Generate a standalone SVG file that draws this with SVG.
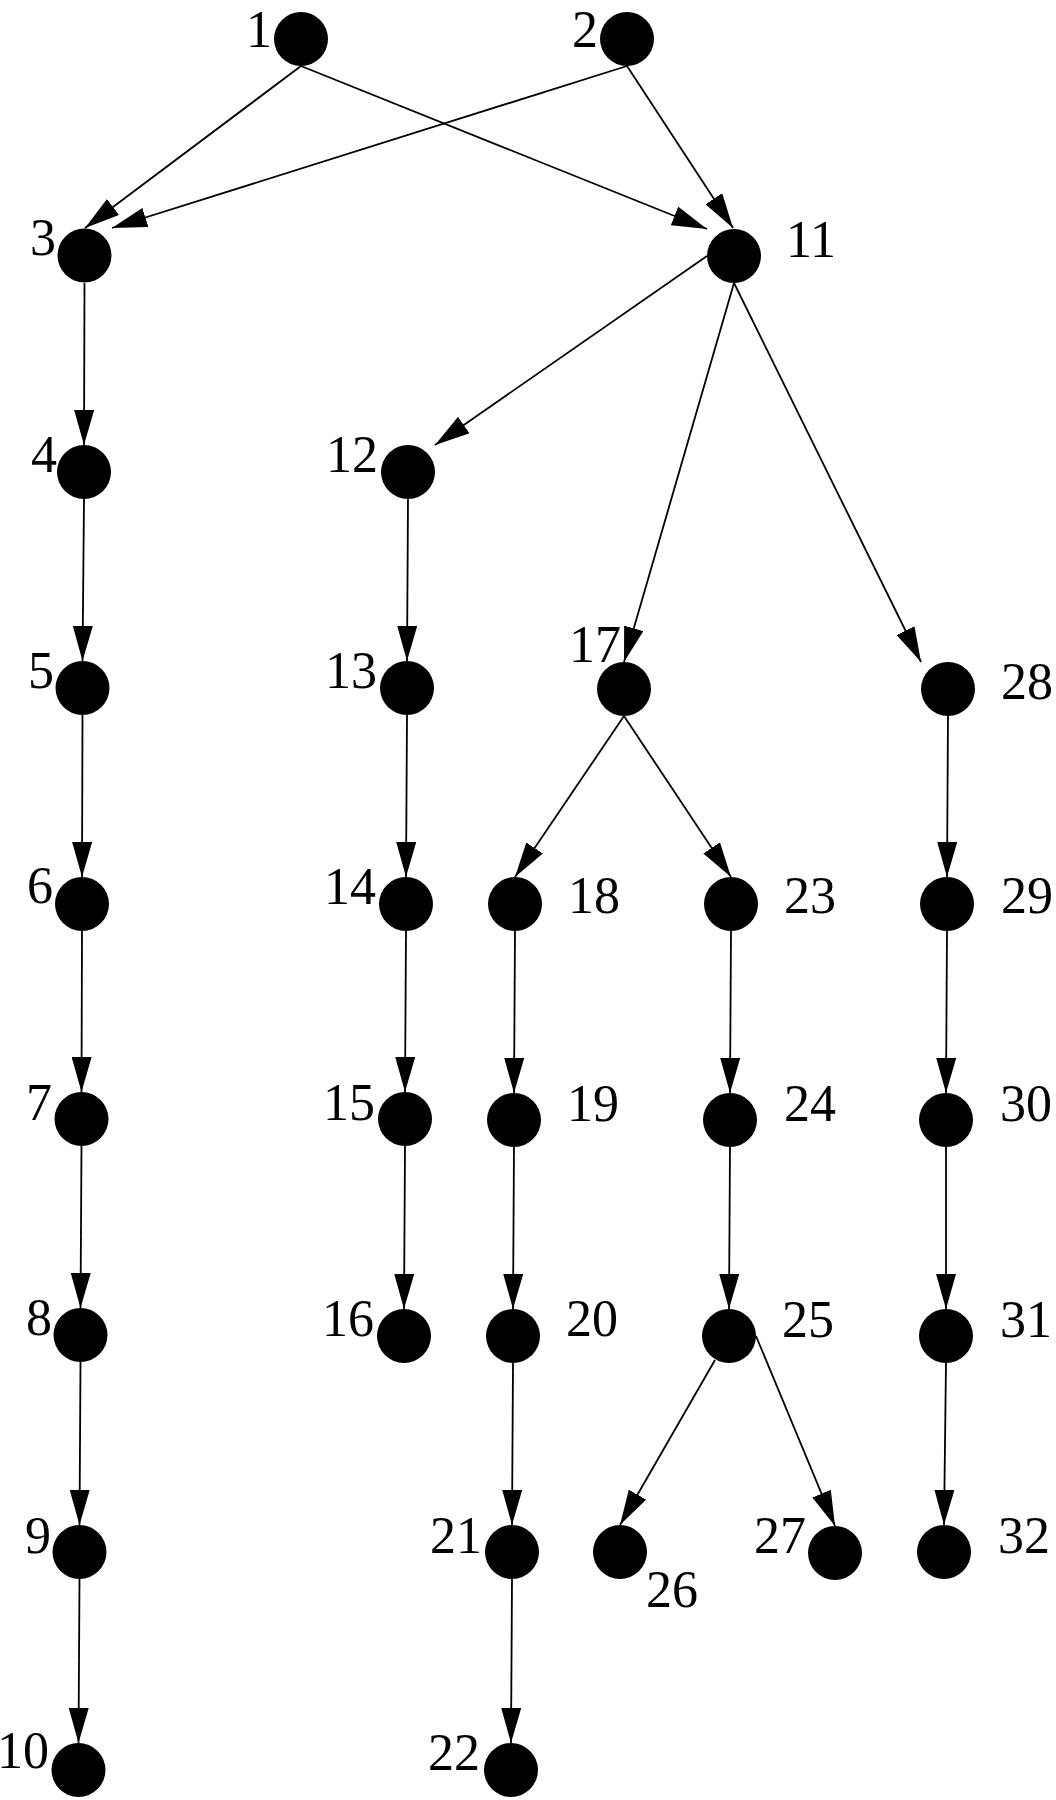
<svg xmlns="http://www.w3.org/2000/svg" width="1056" height="1800" viewBox="0 0 1056 1800">
<style>
.n{fill:#000}
.e line{stroke:#000;stroke-width:1.8;fill:none;marker-end:url(#ah)}
text{font-family:"Liberation Serif","Times New Roman",serif;font-size:52px;fill:#000}
</style>
<defs>
<marker id="ah" markerUnits="userSpaceOnUse" viewBox="0 0 35 20" markerWidth="35" markerHeight="20" refX="35" refY="10" orient="auto">
<path d="M0,0 L35,10 L0,20 z" fill="#000"/>
</marker>
</defs>
<rect width="1056" height="1800" fill="#fff"/>
<g id="connectors" class="e">
<line x1="301" y1="66" x2="85" y2="228"/>
<line x1="301" y1="66" x2="707" y2="229"/>
<line x1="627" y1="66" x2="112" y2="228"/>
<line x1="627" y1="66" x2="733" y2="228"/>
<line x1="84.5" y1="283" x2="84" y2="445"/>
<line x1="84" y1="499" x2="82.5" y2="661"/>
<line x1="82.5" y1="715" x2="82" y2="877"/>
<line x1="82" y1="931" x2="81.5" y2="1092"/>
<line x1="81.5" y1="1146" x2="80.5" y2="1308"/>
<line x1="80.5" y1="1362" x2="79.5" y2="1525"/>
<line x1="79.5" y1="1579" x2="78.5" y2="1743"/>
<line x1="707" y1="256" x2="435" y2="445"/>
<line x1="408" y1="499" x2="407" y2="661"/>
<line x1="407" y1="715" x2="406" y2="877"/>
<line x1="406" y1="931" x2="405" y2="1092"/>
<line x1="405" y1="1146" x2="404" y2="1309"/>
<line x1="734" y1="283" x2="624" y2="662"/>
<line x1="734" y1="283" x2="921" y2="662"/>
<line x1="624" y1="716" x2="515" y2="877"/>
<line x1="624" y1="716" x2="731" y2="877"/>
<line x1="515" y1="931" x2="514" y2="1093"/>
<line x1="514" y1="1147" x2="513" y2="1309"/>
<line x1="513" y1="1363" x2="512" y2="1525"/>
<line x1="512" y1="1579" x2="511" y2="1743"/>
<line x1="731" y1="931" x2="730" y2="1093"/>
<line x1="730" y1="1147" x2="729" y2="1309"/>
<line x1="715" y1="1360" x2="620" y2="1525"/>
<line x1="756" y1="1336" x2="835" y2="1526"/>
<line x1="948" y1="716" x2="947" y2="877"/>
<line x1="947" y1="931" x2="946" y2="1093"/>
<line x1="946" y1="1147" x2="946" y2="1309"/>
<line x1="946" y1="1363" x2="944" y2="1525"/>
</g>
<g id="node1"><circle class="n" cx="301" cy="39" r="27"/><text x="246" y="47">1</text></g>
<g id="node2"><circle class="n" cx="627" cy="39" r="27"/><text x="572" y="47">2</text></g>
<g id="node3"><circle class="n" cx="84.5" cy="255.5" r="27"/><text x="30" y="255">3</text></g>
<g id="node4"><circle class="n" cx="84" cy="472" r="27"/><text x="31" y="472">4</text></g>
<g id="node5"><circle class="n" cx="82.5" cy="688" r="27"/><text x="28" y="688">5</text></g>
<g id="node6"><circle class="n" cx="82" cy="904" r="27"/><text x="27" y="903">6</text></g>
<g id="node7"><circle class="n" cx="81.5" cy="1119" r="27"/><text x="26" y="1120">7</text></g>
<g id="node8"><circle class="n" cx="80.5" cy="1335" r="27"/><text x="26" y="1335">8</text></g>
<g id="node9"><circle class="n" cx="79.5" cy="1552" r="27"/><text x="25" y="1553">9</text></g>
<g id="node10"><circle class="n" cx="78.5" cy="1770" r="27"/><text x="-3" y="1768">10</text></g>
<g id="node11"><circle class="n" cx="734" cy="256" r="27"/><text x="786" y="257">11</text></g>
<g id="node12"><circle class="n" cx="408" cy="472" r="27"/><text x="326" y="472">12</text></g>
<g id="node13"><circle class="n" cx="407" cy="688" r="27"/><text x="325" y="688">13</text></g>
<g id="node14"><circle class="n" cx="406" cy="904" r="27"/><text x="324" y="904">14</text></g>
<g id="node15"><circle class="n" cx="405" cy="1119" r="27"/><text x="323" y="1120">15</text></g>
<g id="node16"><circle class="n" cx="404" cy="1336" r="27"/><text x="322" y="1336">16</text></g>
<g id="node17"><circle class="n" cx="624" cy="689" r="27"/><text x="569" y="662">17</text></g>
<g id="node18"><circle class="n" cx="515" cy="904" r="27"/><text x="568" y="913">18</text></g>
<g id="node19"><circle class="n" cx="514" cy="1120" r="27"/><text x="567" y="1121">19</text></g>
<g id="node20"><circle class="n" cx="513" cy="1336" r="27"/><text x="566" y="1336">20</text></g>
<g id="node21"><circle class="n" cx="512" cy="1552" r="27"/><text x="430" y="1553">21</text></g>
<g id="node22"><circle class="n" cx="511" cy="1770" r="27"/><text x="428" y="1770">22</text></g>
<g id="node23"><circle class="n" cx="731" cy="904" r="27"/><text x="784" y="913">23</text></g>
<g id="node24"><circle class="n" cx="730" cy="1120" r="27"/><text x="784" y="1121">24</text></g>
<g id="node25"><circle class="n" cx="729" cy="1336" r="27"/><text x="782" y="1337">25</text></g>
<g id="node26"><circle class="n" cx="620" cy="1552" r="27"/><text x="646" y="1607">26</text></g>
<g id="node27"><circle class="n" cx="835" cy="1553" r="27"/><text x="754" y="1553">27</text></g>
<g id="node28"><circle class="n" cx="948" cy="689" r="27"/><text x="1001" y="699">28</text></g>
<g id="node29"><circle class="n" cx="947" cy="904" r="27"/><text x="1001" y="913">29</text></g>
<g id="node30"><circle class="n" cx="946" cy="1120" r="27"/><text x="1000" y="1121">30</text></g>
<g id="node31"><circle class="n" cx="946" cy="1336" r="27"/><text x="1000" y="1337">31</text></g>
<g id="node32"><circle class="n" cx="944" cy="1552" r="27"/><text x="998" y="1553">32</text></g>
</svg>
